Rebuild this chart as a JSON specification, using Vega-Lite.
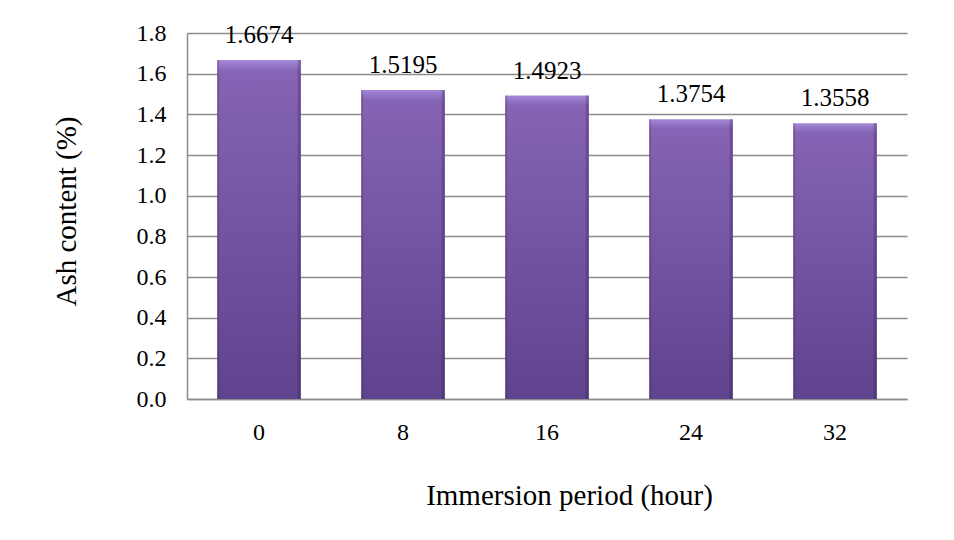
{
  "$schema": "https://vega.github.io/schema/vega-lite/v6.json",
  "width": 720,
  "height": 366,
  "autosize": {"type": "none"},
  "padding": {"left": 187, "top": 33, "right": 47, "bottom": 141},
  "background": "white",
  "config": {
    "view": {"stroke": null},
    "font": "Liberation Serif",
    "axis": {
      "labelFont": "Liberation Serif",
      "titleFont": "Liberation Serif",
      "labelColor": "#000000",
      "titleColor": "#000000",
      "titleFontWeight": "normal",
      "gridColor": "#8c8c8c",
      "gridWidth": 1.5,
      "gridOpacity": 1,
      "domainColor": "#8c8c8c",
      "domainWidth": 1.5,
      "ticks": false
    }
  },
  "data": {
    "values": [
      {"hour": "0", "ash": 1.6674},
      {"hour": "8", "ash": 1.5195},
      {"hour": "16", "ash": 1.4923},
      {"hour": "24", "ash": 1.3754},
      {"hour": "32", "ash": 1.3558}
    ]
  },
  "encoding": {
    "x": {
      "field": "hour",
      "type": "ordinal",
      "sort": ["0", "8", "16", "24", "32"],
      "scale": {"paddingInner": 0.42, "paddingOuter": 0.21},
      "axis": {
        "title": "Immersion period (hour)",
        "labelAngle": 0,
        "labelFontSize": 24,
        "labelPadding": 21,
        "titleFontSize": 29,
        "titlePadding": 37,
        "titleX": 382,
        "grid": false,
        "domain": true
      }
    },
    "y": {
      "field": "ash",
      "type": "quantitative",
      "scale": {"domain": [0, 1.8]},
      "axis": {
        "title": "Ash content (%)",
        "values": [0, 0.2, 0.4, 0.6, 0.8, 1.0, 1.2, 1.4, 1.6, 1.8],
        "format": ".1f",
        "labelFontSize": 24,
        "labelPadding": 21,
        "titleFontSize": 29,
        "titlePadding": 55,
        "titleY": 178,
        "grid": true,
        "domain": true
      }
    }
  },
  "layer": [
    {
      "mark": {
        "type": "bar",
        "color": {
          "gradient": "linear",
          "x1": 0, "y1": 0, "x2": 0, "y2": 1,
          "stops": [
            {"offset": 0, "color": "#a589d8"},
            {"offset": 0.018, "color": "#9274c6"},
            {"offset": 0.035, "color": "#8663b4"},
            {"offset": 1, "color": "#5f438e"}
          ]
        }
      }
    },
    {
      "mark": {
        "type": "bar",
        "color": {
          "gradient": "linear",
          "x1": 0, "y1": 0, "x2": 1, "y2": 0,
          "stops": [
            {"offset": 0, "color": "rgba(40,20,70,0.35)"},
            {"offset": 0.03, "color": "rgba(40,20,70,0)"},
            {"offset": 0.95, "color": "rgba(40,20,70,0)"},
            {"offset": 1, "color": "rgba(40,20,70,0.45)"}
          ]
        }
      }
    },
    {
      "mark": {
        "type": "text",
        "baseline": "alphabetic",
        "dy": -17,
        "fontSize": 25,
        "font": "Liberation Serif",
        "color": "#000000"
      },
      "encoding": {
        "text": {"field": "ash", "type": "quantitative", "format": ".4f"}
      }
    }
  ]
}
